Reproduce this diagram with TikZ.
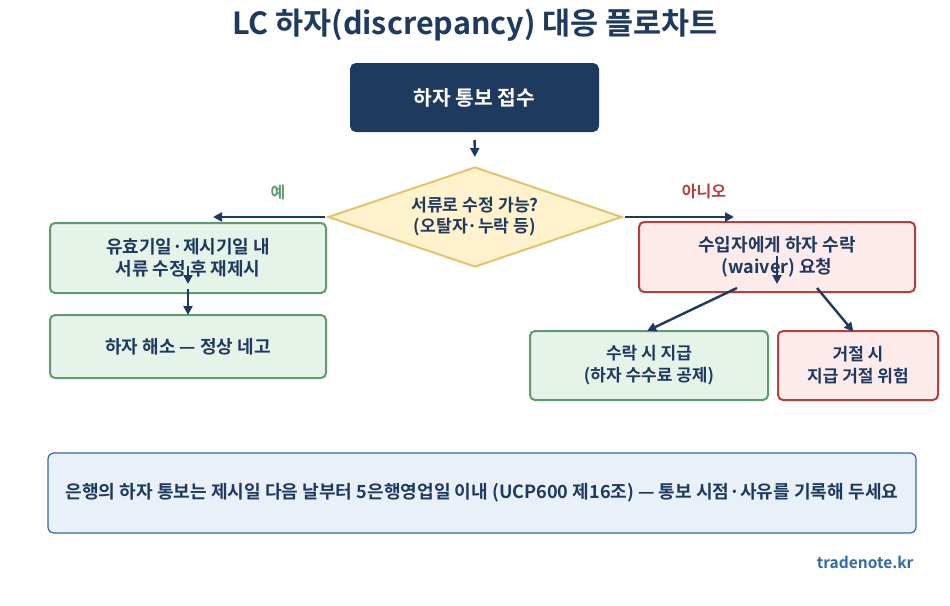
\documentclass[tikz,border=0pt]{standalone}
\usepackage{fontspec}
\setmainfont{Noto Sans CJK KR}[BoldFont={* Bold}]
\usetikzlibrary{shapes.geometric,arrows.meta}
\definecolor{navy}{HTML}{1E3A5F}
\definecolor{gline}{HTML}{5E9C6E}
\definecolor{gfill}{HTML}{E6F3E9}
\definecolor{rline}{HTML}{B3403F}
\definecolor{rfill}{HTML}{FDEBEB}
\definecolor{yline}{HTML}{E3C46C}
\definecolor{yfill}{HTML}{FFF2CC}
\definecolor{bline}{HTML}{2F6BAA}
\definecolor{bfill}{HTML}{E9F0F8}
\definecolor{ylab}{HTML}{5E9C6E}
\definecolor{nlab}{HTML}{B3403F}
\tikzset{
  basebox/.style={rounded corners=5pt, line width=2pt, align=center, inner sep=0pt, font=\fontsize{18}{22.5}\selectfont\bfseries, text=navy},
  gbox/.style={basebox, draw=gline, fill=gfill},
  rbox/.style={basebox, draw=rline, fill=rfill},
  smallbox/.style={font=\fontsize{17}{22}\selectfont\bfseries},
  arr/.style={draw=navy, line width=2.4pt, -{Triangle[length=9pt,width=9pt]}},
  lab/.style={font=\fontsize{16}{19}\selectfont\bfseries},
}
\begin{document}
\begin{tikzpicture}[x=1pt,y=-1pt]
\useasboundingbox (0,0) rectangle (950,605);
\fill[white] (0,0) rectangle (950,605);
\node[font=\fontsize{30.5}{34}\selectfont\bfseries, text=navy] (title) at (475,25) {LC 하자(discrepancy) 대응 플로차트};
\node[basebox, fill=navy, draw=navy, text=white, minimum width=247pt, minimum height=67pt, font=\fontsize{20.3}{24}\selectfont\bfseries] (top) at (474.5,97.5) {하자 통보 접수};
\node[diamond, aspect=2.94, draw=yline, fill=yfill, line width=2pt, inner sep=0pt, minimum width=294pt, minimum height=100pt, align=center, font=\fontsize{17.2}{21}\selectfont\bfseries, text=navy] (dec) at (475,217) {서류로 수정 가능?\\(오탈자·누락 등)};
\node[gbox, minimum width=276pt, minimum height=70pt] (l1) at (188,258) {유효기일·제시기일 내\\서류 수정 후 재제시};
\node[gbox, minimum width=276pt, minimum height=63pt] (l2) at (188,346.5) {하자 해소 — 정상 네고};
\node[rbox, minimum width=276pt, minimum height=70pt] (r1) at (777,257) {수입자에게 하자 수락\\(waiver) 요청};
\node[gbox, smallbox, minimum width=238pt, minimum height=69pt] (r2) at (649,365.5) {수락 시 지급\\(하자 수수료 공제)};
\node[rbox, smallbox, minimum width=160pt, minimum height=69pt] (r3) at (858,365.5) {거절 시\\지급 거절 위험};
\node[rounded corners=6pt, draw=bline, fill=bfill, line width=1.2pt, minimum width=868pt, minimum height=80pt, font=\fontsize{18.1}{22}\selectfont\bfseries, text=navy] (note) at (482,493) {은행의 하자 통보는 제시일 다음 날부터 5은행영업일 이내 (UCP600 제16조) — 통보 시점·사유를 기록해 두세요};
\node[anchor=east, font=\fontsize{15.5}{18}\selectfont\bfseries, text=bline] (site) at (917,562) {tradenote.kr};
\node[lab, text=ylab] (yes) at (278,192) {예};
\node[lab, text=nlab] (no) at (704,192) {아니오};
\coordinate (yesend) at (213,217);
\coordinate (noend) at (734,217);
\coordinate (la) at (188,266);
\coordinate (lb) at (188,284);
\coordinate (lc) at (188,289);
\coordinate (ra) at (777,256);
\coordinate (rb) at (777,284);
\coordinate (rc) at (737,288);
\coordinate (rd) at (817,288);
\draw[arr, shorten <=8pt, shorten >=9pt] (top.south) -- (dec.north);
\draw[arr, shorten <=2pt] (dec.west) -- (yesend);
\draw[arr, shorten <=2pt] (dec.east) -- (noend);
\draw[arr] (la) -- (lb);
\draw[arr, shorten >=-1pt] (lc) -- (l2.north);
\draw[arr] (ra) -- (rb);
\draw[arr, shorten >=-2pt] (rc) -- (r2.north);
\draw[arr, shorten >=-2pt] (rd) -- ([xshift=-6pt]r3.north);
\end{tikzpicture}
\end{document}
